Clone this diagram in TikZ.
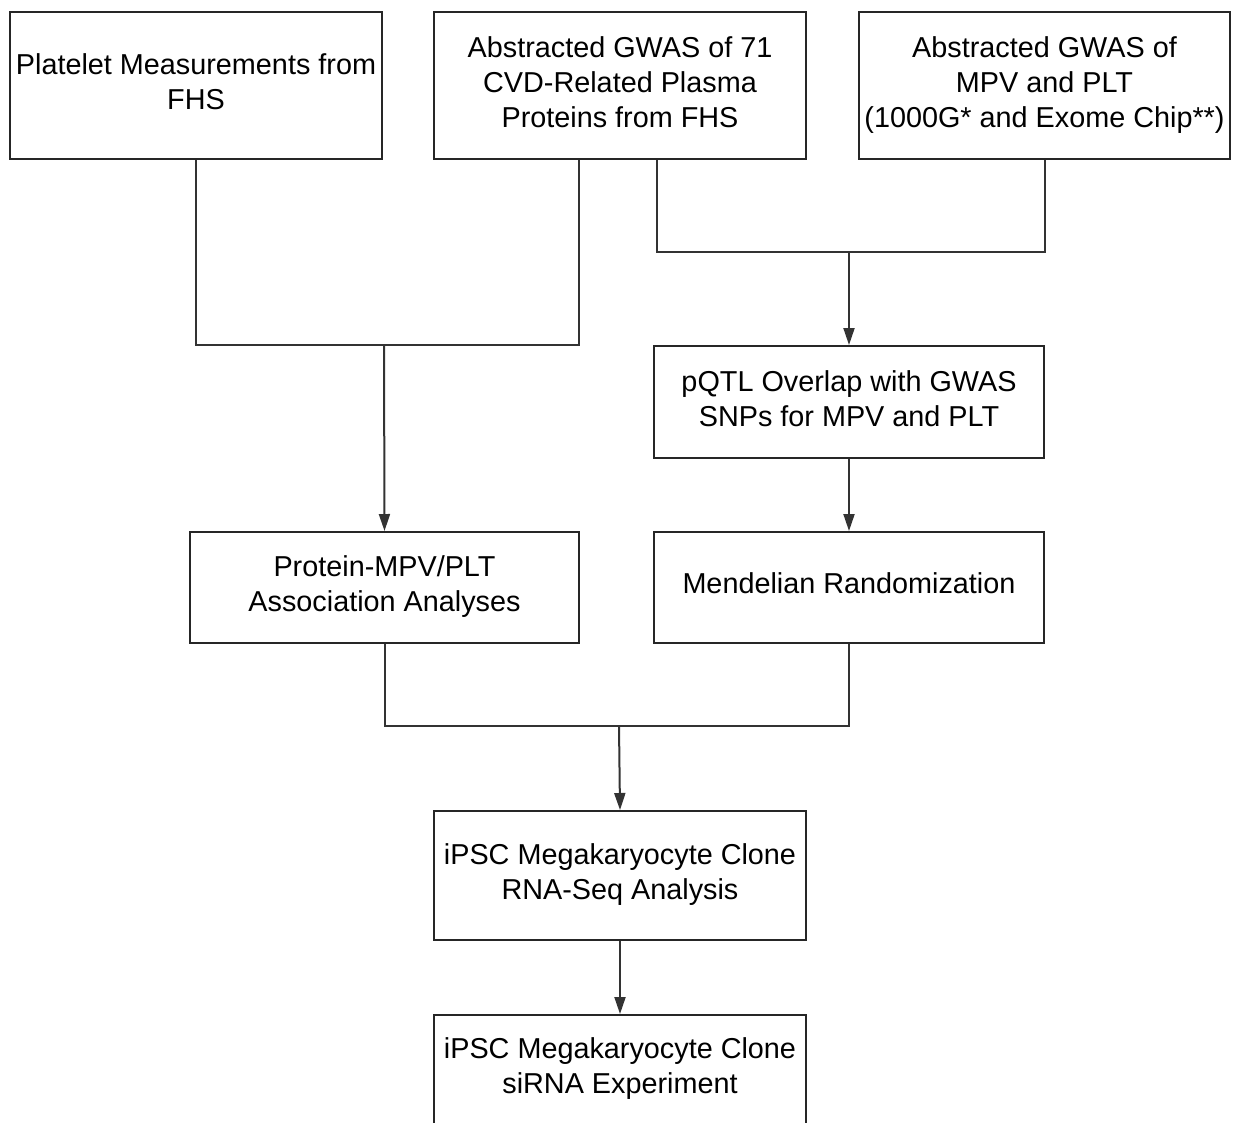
\documentclass[tikz,border=0pt]{standalone}
\usepackage{fontspec}
\setmainfont{Liberation Sans}
\usetikzlibrary{arrows.meta}
\newcommand{\tbox}[2][-6pt]{\raisebox{#1}[0pt][0pt]{\begin{tabular}{@{}c@{}}#2\end{tabular}}}
\begin{document}
\begin{tikzpicture}[x=1pt,y=-1pt,
  box/.style={draw=black!85, line width=2pt, inner sep=0pt, anchor=north west, font=\fontsize{28.8}{35}\selectfont},
  conn/.style={draw=black!80, line width=2pt},
  arr/.style={conn, -{Triangle[width=11pt,length=17pt]}}]
\useasboundingbox (0,0) rectangle (1234,1122);
\clip (0,0) rectangle (1234,1122);

\node[box, minimum width=372pt, minimum height=147pt] (a) at (9,11) {\tbox{Platelet Measurements from\\FHS}};
\node[box, minimum width=372pt, minimum height=147pt] (b) at (433,11) {\tbox{Abstracted GWAS of 71\\CVD-Related Plasma\\Proteins from FHS}};
\node[box, minimum width=371pt, minimum height=147pt] (c) at (858,11) {\tbox{Abstracted GWAS of\\MPV and PLT\\(1000G* and Exome Chip**)}};
\node[box, minimum width=390pt, minimum height=112pt] (d) at (653,345) {\tbox{pQTL Overlap with GWAS\\SNPs for MPV and PLT}};
\node[box, minimum width=389pt, minimum height=111pt] (e) at (189,531) {\tbox{Protein-MPV/PLT\\Association Analyses}};
\node[box, minimum width=390pt, minimum height=111pt] (f) at (653,531) {\tbox[-5pt]{Mendelian Randomization}};
\node[box, minimum width=372pt, minimum height=129pt] (g) at (433,810) {\tbox{iPSC Megakaryocyte Clone\\RNA-Seq Analysis}};
\node[box, minimum width=372pt, minimum height=129pt] (h) at (433,1014) {\tbox[4pt]{iPSC Megakaryocyte Clone\\siRNA Experiment}};

\coordinate (j1) at (384,345);
\draw[conn] (a.south) |- (j1) -| ([xshift=-41pt]b.south);
\draw[arr] (j1) -- (e.north);

\coordinate (j2) at (849,252);
\draw[conn] ([xshift=37pt]b.south) |- (j2) -| (c.south);
\draw[arr] (j2) -- (d.north);
\draw[arr] (d.south) -- (f.north);

\coordinate (j3) at (619,726);
\draw[conn] (e.south) |- (j3) -| (f.south);
\draw[arr] (j3) -- (g.north);
\draw[arr] (g.south) -- (h.north);
\end{tikzpicture}
\end{document}
